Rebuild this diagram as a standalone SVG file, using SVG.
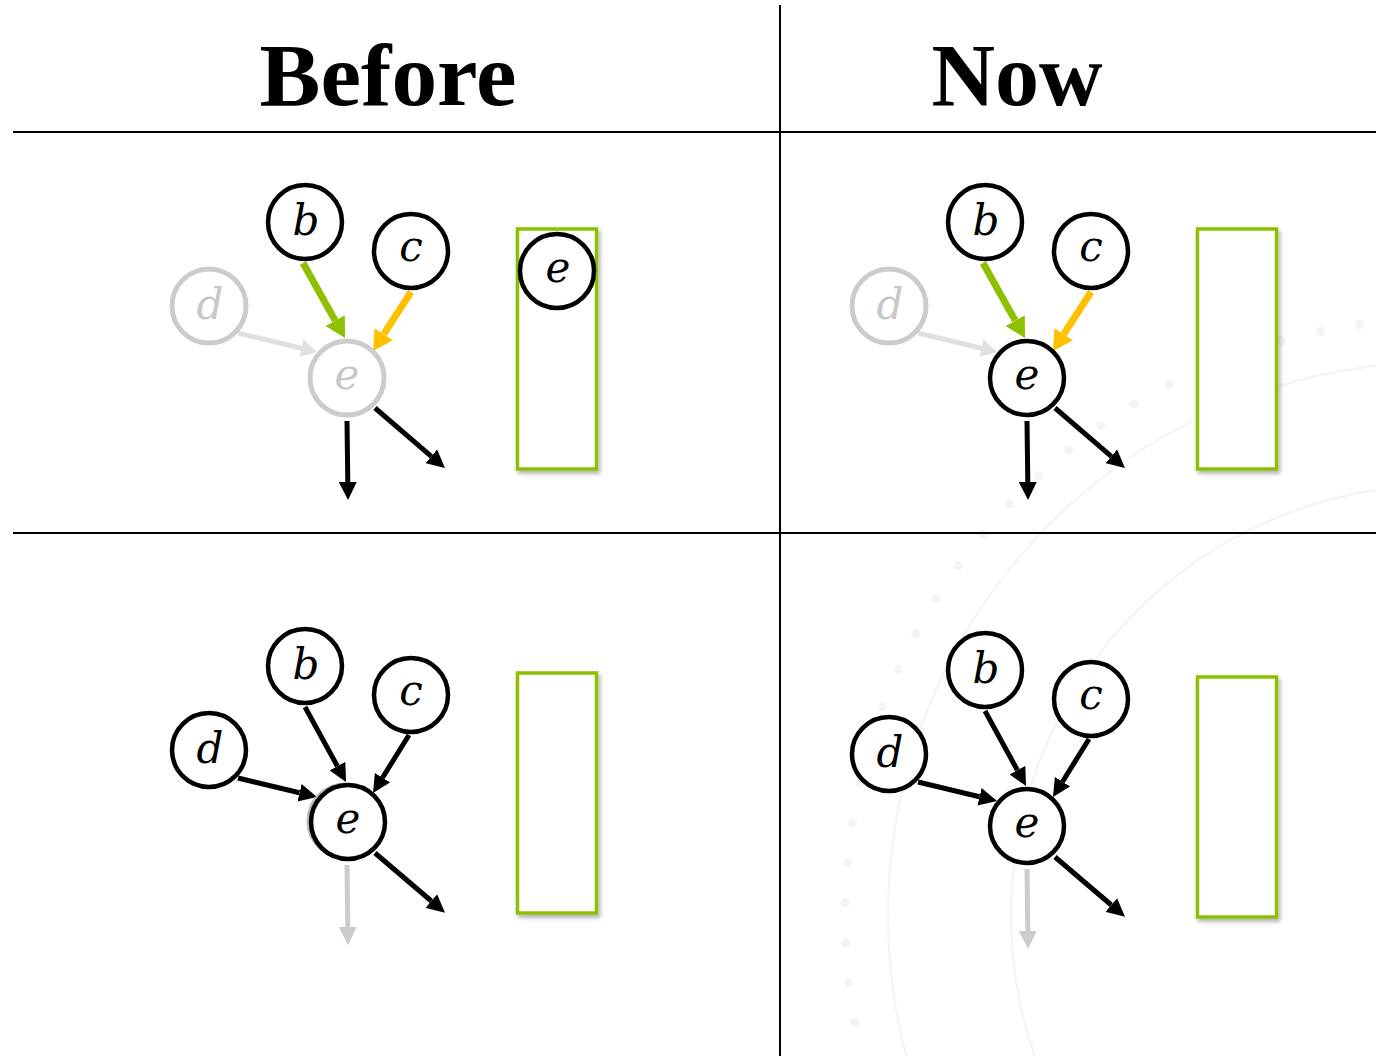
<svg xmlns="http://www.w3.org/2000/svg" width="1376" height="1056" viewBox="0 0 1376 1056">
<style>
.title{font-family:"Liberation Serif","Times New Roman",serif;font-weight:bold;font-size:88px;fill:#000;text-anchor:middle}
.lbl{font-family:"DejaVu Serif",serif;font-style:italic;font-size:42px;text-anchor:middle;fill:#000}
.lbl.g{fill:#c8c8c8}
.node{fill:#fff;stroke:#000;stroke-width:4.5}
.node.g{stroke:#cccccc;stroke-width:5}
.slot{fill:#fff;stroke:#8dc000;stroke-width:3.5;filter:url(#sh)}
.div{stroke:#000;stroke-width:2;fill:none}
.a{fill:none;stroke-linecap:butt}
.blk{stroke:#000;stroke-width:5;marker-end:url(#mB)}
.grn{stroke:#8dc000;stroke-width:7;marker-end:url(#mG)}
.org{stroke:#ffc000;stroke-width:7;marker-end:url(#mO)}
.lg{stroke:#e0e0e0;stroke-width:5;marker-end:url(#mL)}
.gy{stroke:#cccccc;stroke-width:5;marker-end:url(#mY)}
.wm{fill:none;stroke:#f3f3f3;stroke-width:2}
</style>
<defs>
<filter id="sh" x="-20%" y="-10%" width="150%" height="130%">
<feDropShadow dx="2" dy="3" stdDeviation="2" flood-color="#000" flood-opacity="0.3"/>
</filter>
<marker id="mB" markerUnits="userSpaceOnUse" viewBox="0 -9 18 18" markerWidth="18" markerHeight="18" refX="0" refY="0" orient="auto"><path d="M0,-9 L18,0 L0,9 z" fill="#000"/></marker>
<marker id="mG" markerUnits="userSpaceOnUse" viewBox="0 -11 20 22" markerWidth="20" markerHeight="22" refX="0" refY="0" orient="auto"><path d="M0,-11 L20,0 L0,11 z" fill="#8dc000"/></marker>
<marker id="mO" markerUnits="userSpaceOnUse" viewBox="0 -11 20 22" markerWidth="20" markerHeight="22" refX="0" refY="0" orient="auto"><path d="M0,-11 L20,0 L0,11 z" fill="#ffc000"/></marker>
<marker id="mL" markerUnits="userSpaceOnUse" viewBox="0 -9 16 18" markerWidth="16" markerHeight="18" refX="0" refY="0" orient="auto"><path d="M0,-9 L16,0 L0,9 z" fill="#e0e0e0"/></marker>
<marker id="mY" markerUnits="userSpaceOnUse" viewBox="0 -9 18 18" markerWidth="18" markerHeight="18" refX="0" refY="0" orient="auto"><path d="M0,-9 L18,0 L0,9 z" fill="#cccccc"/></marker>
</defs>
<rect width="1376" height="1056" fill="#fff"/>
<g id="watermark">
<circle cx="1441" cy="915" r="596" fill="none" stroke="#f4f4f4" stroke-width="9" stroke-dasharray="0.1 40" stroke-linecap="round"/>
<circle class="wm" cx="1441" cy="915" r="553"/>
<circle class="wm" cx="1441" cy="915" r="430"/>
</g>
<g id="dividers">
<line class="div" x1="13" y1="132" x2="1376" y2="132"/>
<line class="div" x1="13" y1="533" x2="1376" y2="533"/>
<line class="div" x1="780" y1="5" x2="780" y2="1056"/>
</g>
<g id="titles">
<text class="title" x="388" y="105" textLength="257" lengthAdjust="spacingAndGlyphs">Before</text>
<text class="title" x="1017" y="105">Now</text>
</g>
<g id="slots">
<rect id="slot-tl" class="slot" x="517.5" y="229" width="79" height="240"/>
<rect id="slot-tr" class="slot" x="1197.5" y="229" width="79" height="240"/>
<rect id="slot-bl" class="slot" x="517.5" y="673" width="79" height="240"/>
<rect id="slot-br" class="slot" x="1197.5" y="677" width="79" height="240"/>
</g>
<g id="connectors">
<!-- top-left -->
<path class="a grn" d="M303,263 L335.2,320.6"/>
<path class="a org" d="M411,292 L383.8,334.2"/>
<path class="a lg" d="M238,333 L301.4,348.3"/>
<path class="a blk" d="M347,421 L347.8,482"/>
<path class="a blk" d="M375,408 L431.3,456.3"/>
<!-- top-right -->
<path class="a grn" d="M983,263 L1015.2,320.6"/>
<path class="a org" d="M1091,292 L1063.8,334.2"/>
<path class="a lg" d="M918,333 L981.4,348.3"/>
<path class="a blk" d="M1027,421 L1027.8,482"/>
<path class="a blk" d="M1055,408 L1111.3,456.3"/>
<!-- bottom-left -->
<path class="a blk" d="M305,707 L337.4,766.2"/>
<path class="a blk" d="M409,735 L382.5,777.7"/>
<path class="a blk" d="M238,778 L299.5,792.8"/>
<path class="a gy" d="M347,865 L347.8,927"/>
<path class="a blk" d="M375,853 L431.3,901"/>
<!-- bottom-right -->
<path class="a blk" d="M985,711 L1017.4,770.2"/>
<path class="a blk" d="M1089,739 L1062.5,781.7"/>
<path class="a blk" d="M918,782 L979.5,796.8"/>
<path class="a gy" d="M1027,869 L1027.8,931"/>
<path class="a blk" d="M1055,857 L1111.3,905"/>
</g>
<!-- top-left nodes -->
<g id="tl-b"><circle class="node" cx="305" cy="222" r="37"/><text class="lbl" x="306" y="235">b</text></g>
<g id="tl-c"><circle class="node" cx="411" cy="251" r="37"/><text class="lbl" x="411" y="261">c</text></g>
<g id="tl-d"><circle class="node g" cx="209" cy="306" r="37"/><text class="lbl g" x="210" y="319">d</text></g>
<g id="tl-e"><circle class="node g" cx="347" cy="378" r="37"/><text class="lbl g" x="347" y="389">e</text></g>
<g id="tl-e-slot"><circle class="node" cx="557" cy="271" r="37"/><text class="lbl" x="558" y="282">e</text></g>
<!-- top-right nodes -->
<g id="tr-b"><circle class="node" cx="985" cy="222" r="37"/><text class="lbl" x="986" y="235">b</text></g>
<g id="tr-c"><circle class="node" cx="1091" cy="251" r="37"/><text class="lbl" x="1091" y="261">c</text></g>
<g id="tr-d"><circle class="node g" cx="889" cy="306" r="37"/><text class="lbl g" x="890" y="319">d</text></g>
<g id="tr-e"><circle class="node" cx="1027" cy="378" r="37"/><text class="lbl" x="1027" y="389">e</text></g>
<!-- bottom-left nodes -->
<g id="bl-b"><circle class="node" cx="305" cy="666" r="37"/><text class="lbl" x="306" y="679">b</text></g>
<g id="bl-c"><circle class="node" cx="411" cy="695" r="37"/><text class="lbl" x="411" y="705">c</text></g>
<g id="bl-d"><circle class="node" cx="209" cy="750" r="37"/><text class="lbl" x="210" y="763">d</text></g>
<g id="bl-e"><circle cx="345" cy="821" r="37" fill="none" stroke="#bbbbbb" stroke-width="3"/><circle class="node" cx="348" cy="822" r="37"/><text class="lbl" x="348" y="833">e</text></g>
<!-- bottom-right nodes -->
<g id="br-b"><circle class="node" cx="985" cy="670" r="37"/><text class="lbl" x="986" y="683">b</text></g>
<g id="br-c"><circle class="node" cx="1091" cy="699" r="37"/><text class="lbl" x="1091" y="709">c</text></g>
<g id="br-d"><circle class="node" cx="889" cy="754" r="37"/><text class="lbl" x="890" y="767">d</text></g>
<g id="br-e"><circle class="node" cx="1027" cy="826" r="37"/><text class="lbl" x="1027" y="837">e</text></g>
</svg>
